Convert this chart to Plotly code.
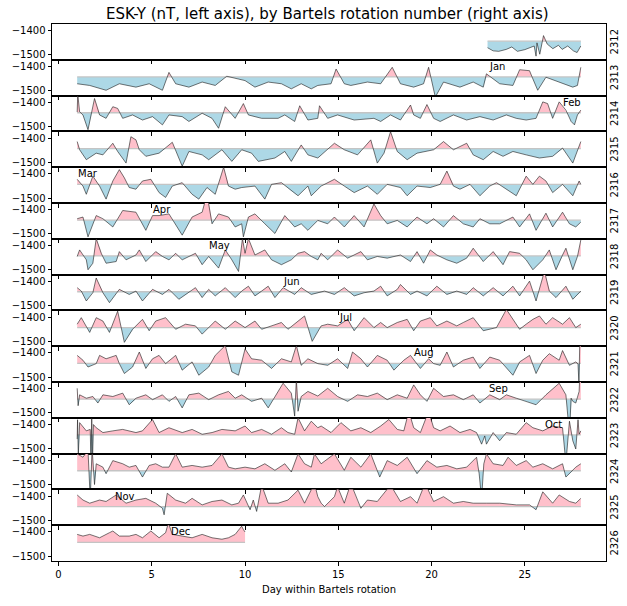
import plotly.graph_objects as go
from plotly.subplots import make_subplots

BASELINE = -1443
ROTATIONS = list(range(2312, 2327))

# (day within rotation, ESK-Y nT) readings for each Bartels rotation
ROT_2312 = [(23.0,-1470),(23.3,-1483),(23.6,-1485),(24.0,-1477),(24.3,-1467),(24.6,-1485),(25.0,-1478),(25.3,-1470),(25.5,-1463),(25.6,-1505),(25.65,-1450),(25.8,-1497),(26.0,-1420),(26.2,-1455),(26.5,-1474),(26.8,-1460),(27.0,-1477),(27.3,-1463),(27.6,-1483),(27.8,-1490),(28.0,-1463)]
ROT_2313 = [(1.0,-1471),(1.67,-1478),(2.55,-1498),(3.26,-1471),(4.15,-1485),(4.86,-1471),(5.57,-1498),(5.92,-1424),(6.28,-1471),(6.99,-1485),(7.7,-1464),(8.4,-1478),(9.02,-1440),(10.0,-1458),(10.53,-1485),(11.24,-1464),(11.95,-1471),(12.48,-1492),(13.01,-1471),(13.55,-1492),(13.9,-1478),(14.61,-1471),(14.88,-1410),(15.32,-1471),(15.67,-1478),(16.56,-1464),(17.27,-1471),(17.89,-1403),(18.33,-1471),(19.04,-1485),(19.57,-1471),(19.84,-1403),(20.2,-1526),(20.64,-1464),(21.52,-1485),(22.23,-1464),(22.77,-1485),(22.94,-1430),(23.65,-1471),(24.36,-1478),(24.72,-1413),(25.25,-1417),(25.43,-1451),(25.69,-1498),(26.13,-1444),(26.84,-1464),(27.57,-1485),(27.82,-1478),(28.0,-1403)]
ROT_2314 = [(1.0,-1440),(1.03,-1365),(1.13,-1439),(1.31,-1452),(1.58,-1513),(1.76,-1452),(1.93,-1384),(2.2,-1452),(2.55,-1466),(2.91,-1418),(3.17,-1425),(3.44,-1466),(3.97,-1452),(4.5,-1473),(5.04,-1459),(5.57,-1493),(5.92,-1452),(6.63,-1459),(6.99,-1479),(7.7,-1445),(8.23,-1466),(8.58,-1507),(8.94,-1418),(9.47,-1466),(9.91,-1405),(10.18,-1452),(10.89,-1466),(11.77,-1466),(12.13,-1452),(12.66,-1479),(12.93,-1414),(13.37,-1473),(13.9,-1466),(13.99,-1414),(14.43,-1466),(14.96,-1452),(15.85,-1473),(16.91,-1466),(17.27,-1479),(17.8,-1452),(18.33,-1473),(18.87,-1411),(19.04,-1452),(19.4,-1466),(19.75,-1409),(20.11,-1466),(20.46,-1479),(21.17,-1452),(21.88,-1473),(22.59,-1459),(23.3,-1473),(24.01,-1452),(24.54,-1466),(25.07,-1473),(25.6,-1466),(25.96,-1398),(26.22,-1405),(26.49,-1466),(26.84,-1398),(27.2,-1432),(27.48,-1479),(27.66,-1493),(27.82,-1452),(28.0,-1432)]
ROT_2315 = [(1.0,-1414),(1.13,-1448),(1.49,-1489),(2.02,-1462),(2.38,-1469),(2.91,-1421),(3.17,-1455),(3.62,-1503),(3.88,-1394),(4.15,-1407),(4.33,-1448),(4.68,-1475),(5.39,-1462),(5.74,-1441),(6.1,-1417),(6.63,-1516),(6.99,-1455),(7.7,-1469),(8.05,-1489),(8.76,-1448),(9.29,-1496),(9.82,-1448),(10.35,-1462),(10.71,-1496),(11.6,-1482),(12.13,-1455),(12.48,-1496),(13.01,-1428),(13.37,-1469),(13.9,-1482),(14.79,-1421),(15.32,-1448),(16.03,-1469),(16.74,-1407),(17.09,-1503),(17.45,-1462),(17.8,-1373),(18.16,-1455),(18.69,-1489),(19.22,-1462),(20.11,-1448),(20.64,-1414),(21.17,-1448),(21.88,-1421),(22.23,-1469),(22.77,-1489),(23.3,-1455),(23.83,-1475),(24.36,-1455),(25.07,-1469),(25.78,-1482),(26.49,-1475),(27.02,-1441),(27.57,-1503),(28.0,-1414)]
ROT_2316 = [(1.0,-1422),(1.31,-1450),(1.49,-1484),(1.84,-1409),(2.2,-1450),(2.55,-1504),(2.91,-1429),(3.26,-1382),(3.53,-1416),(3.79,-1456),(4.15,-1463),(4.5,-1429),(4.95,-1422),(5.39,-1477),(5.74,-1497),(6.1,-1450),(6.63,-1436),(7.16,-1484),(7.52,-1504),(7.96,-1456),(8.4,-1484),(8.85,-1372),(9.11,-1450),(9.47,-1463),(9.82,-1456),(10.53,-1450),(11.06,-1504),(11.42,-1443),(11.95,-1436),(12.48,-1470),(12.84,-1490),(13.37,-1450),(13.55,-1490),(14.08,-1450),(14.79,-1422),(15.32,-1450),(15.85,-1477),(16.56,-1450),(17.09,-1484),(17.62,-1443),(18.33,-1456),(18.69,-1490),(19.22,-1450),(19.93,-1456),(20.46,-1443),(20.82,-1388),(21.17,-1450),(21.52,-1463),(22.06,-1443),(22.59,-1490),(23.12,-1450),(23.48,-1436),(24.01,-1463),(24.54,-1490),(25.07,-1409),(25.43,-1443),(25.78,-1409),(26.13,-1429),(26.49,-1477),(27.02,-1443),(27.57,-1490),(27.91,-1429),(28.0,-1443)]
ROT_2317 = [(1.0,-1437),(1.31,-1430),(1.58,-1512),(2.02,-1424),(2.38,-1437),(2.91,-1471),(3.44,-1403),(4.15,-1410),(4.68,-1485),(5.04,-1424),(5.39,-1424),(5.92,-1417),(6.63,-1505),(7.16,-1430),(7.7,-1410),(7.96,-1335),(8.23,-1458),(8.58,-1417),(9.11,-1430),(9.47,-1471),(9.82,-1458),(9.91,-1512),(10.18,-1430),(10.53,-1417),(11.06,-1458),(11.6,-1498),(12.13,-1424),(12.66,-1471),(13.01,-1458),(13.37,-1485),(13.9,-1444),(14.43,-1458),(14.79,-1430),(15.32,-1471),(15.85,-1424),(16.38,-1471),(16.91,-1376),(17.27,-1424),(17.62,-1458),(18.16,-1444),(18.69,-1471),(19.22,-1430),(19.75,-1458),(20.11,-1437),(20.64,-1471),(21.17,-1424),(21.7,-1458),(22.23,-1471),(22.59,-1437),(23.12,-1458),(23.65,-1458),(24.36,-1430),(24.72,-1471),(25.25,-1417),(25.6,-1485),(26.13,-1414),(26.49,-1471),(27.02,-1410),(27.39,-1458),(27.73,-1471),(28.0,-1451)]
ROT_2318 = [(1.0,-1445),(1.13,-1418),(1.49,-1459),(1.58,-1500),(1.84,-1473),(2.02,-1371),(2.29,-1432),(2.55,-1473),(3.09,-1466),(3.26,-1425),(3.62,-1459),(4.15,-1439),(4.33,-1418),(4.68,-1466),(5.21,-1425),(5.57,-1445),(5.92,-1459),(6.28,-1432),(6.63,-1459),(7.34,-1432),(7.7,-1479),(8.05,-1445),(8.58,-1493),(8.94,-1418),(9.29,-1459),(9.65,-1507),(9.86,-1371),(10.0,-1432),(10.18,-1371),(10.53,-1439),(11.06,-1418),(11.42,-1459),(11.95,-1479),(12.48,-1459),(12.84,-1432),(13.19,-1425),(13.55,-1445),(13.9,-1459),(14.08,-1432),(14.43,-1459),(14.96,-1418),(15.5,-1452),(16.21,-1425),(16.56,-1459),(17.09,-1445),(17.62,-1452),(18.33,-1439),(18.87,-1466),(19.22,-1425),(19.57,-1473),(19.93,-1418),(20.28,-1439),(20.82,-1459),(21.35,-1473),(21.88,-1452),(22.23,-1411),(22.77,-1466),(23.3,-1425),(23.83,-1479),(24.18,-1425),(24.72,-1432),(25.07,-1459),(25.43,-1500),(25.96,-1459),(26.31,-1418),(26.67,-1500),(27.02,-1439),(27.2,-1411),(27.57,-1500),(27.82,-1445),(28.0,-1377)]
ROT_2319 = [(1.0,-1426),(1.22,-1440),(1.49,-1481),(1.84,-1447),(2.02,-1386),(2.38,-1447),(2.73,-1488),(3.26,-1433),(3.79,-1454),(4.15,-1440),(4.5,-1481),(5.04,-1433),(5.57,-1454),(5.92,-1433),(6.45,-1474),(6.99,-1447),(7.34,-1426),(7.7,-1467),(8.05,-1433),(8.4,-1460),(8.94,-1426),(9.47,-1467),(9.82,-1440),(10.18,-1420),(10.53,-1460),(10.89,-1440),(11.24,-1420),(11.6,-1467),(12.04,-1426),(12.66,-1454),(13.01,-1426),(13.55,-1454),(14.26,-1440),(14.79,-1454),(15.32,-1426),(15.85,-1460),(16.38,-1447),(16.91,-1440),(17.27,-1420),(17.62,-1460),(18.16,-1433),(18.33,-1413),(18.87,-1454),(19.22,-1440),(19.75,-1460),(20.28,-1420),(20.82,-1454),(21.35,-1440),(21.88,-1454),(22.23,-1426),(22.77,-1460),(23.3,-1426),(23.83,-1460),(24.36,-1420),(24.72,-1460),(25.25,-1399),(25.6,-1481),(26.05,-1358),(26.31,-1440),(26.67,-1467),(27.2,-1420),(27.57,-1474),(28.0,-1440)]
ROT_2320 = [(1.0,-1429),(1.22,-1402),(1.67,-1463),(2.02,-1402),(2.38,-1416),(2.73,-1463),(3.17,-1375),(3.53,-1504),(3.97,-1450),(4.5,-1409),(4.86,-1456),(5.21,-1416),(5.74,-1402),(6.28,-1450),(6.81,-1429),(7.34,-1436),(7.7,-1470),(8.4,-1416),(8.94,-1450),(9.47,-1416),(10.0,-1443),(10.53,-1416),(10.89,-1450),(11.42,-1436),(11.95,-1422),(12.3,-1450),(12.84,-1416),(13.19,-1395),(13.6,-1500),(14.08,-1436),(14.43,-1429),(14.96,-1436),(15.5,-1409),(15.85,-1456),(16.38,-1402),(16.91,-1443),(17.27,-1422),(17.62,-1443),(18.16,-1422),(18.69,-1409),(19.04,-1456),(19.4,-1416),(19.93,-1402),(20.28,-1436),(20.82,-1416),(21.35,-1436),(21.7,-1422),(22.23,-1402),(22.77,-1456),(23.48,-1443),(24.01,-1368),(24.36,-1409),(24.72,-1450),(25.07,-1429),(25.43,-1409),(25.78,-1395),(26.13,-1429),(26.49,-1402),(27.02,-1429),(27.39,-1402),(27.73,-1443),(28.0,-1429)]
ROT_2321 = [(1.0,-1410),(1.31,-1430),(1.58,-1458),(2.02,-1444),(2.2,-1410),(2.55,-1424),(3.09,-1410),(3.26,-1444),(3.53,-1485),(3.97,-1458),(4.33,-1396),(4.68,-1464),(5.04,-1424),(5.39,-1410),(5.74,-1444),(6.28,-1410),(6.63,-1471),(7.16,-1437),(7.52,-1492),(8.05,-1458),(8.4,-1410),(8.94,-1369),(9.29,-1478),(9.65,-1492),(10.0,-1383),(10.35,-1424),(10.89,-1430),(11.42,-1464),(11.95,-1424),(12.48,-1437),(12.75,-1369),(13.01,-1451),(13.37,-1424),(13.9,-1444),(14.43,-1451),(14.96,-1424),(15.5,-1464),(15.76,-1396),(16.21,-1424),(16.56,-1458),(17.09,-1410),(17.62,-1430),(17.98,-1471),(18.51,-1430),(18.87,-1410),(19.4,-1464),(19.84,-1424),(20.11,-1444),(20.46,-1451),(20.82,-1396),(21.17,-1458),(21.7,-1430),(22.23,-1417),(22.59,-1464),(23.12,-1417),(23.65,-1430),(24.36,-1492),(24.72,-1437),(25.25,-1410),(25.6,-1485),(25.96,-1430),(26.31,-1403),(26.84,-1430),(27.02,-1390),(27.39,-1451),(27.73,-1437),(27.85,-1445),(27.9,-1530),(27.95,-1330),(28.0,-1330)]
ROT_2322 = [(1.0,-1398),(1.05,-1470),(1.13,-1425),(1.49,-1439),(1.84,-1432),(2.11,-1459),(2.38,-1425),(2.91,-1432),(3.44,-1418),(3.79,-1466),(4.15,-1439),(4.68,-1425),(5.04,-1445),(5.57,-1425),(5.92,-1452),(6.28,-1432),(6.63,-1479),(6.99,-1425),(7.52,-1418),(8.05,-1445),(8.58,-1425),(9.11,-1411),(9.47,-1439),(9.82,-1425),(10.35,-1452),(10.89,-1439),(11.24,-1479),(11.77,-1411),(12.04,-1377),(12.48,-1418),(12.66,-1513),(12.75,-1357),(12.84,-1493),(13.01,-1432),(13.37,-1411),(13.9,-1430),(14.43,-1398),(14.96,-1432),(15.5,-1452),(16.03,-1425),(16.56,-1432),(17.09,-1418),(17.62,-1445),(18.16,-1425),(18.69,-1439),(19.04,-1384),(19.4,-1425),(19.75,-1452),(20.11,-1398),(20.64,-1432),(21.17,-1425),(21.7,-1445),(22.23,-1425),(22.59,-1459),(23.12,-1425),(23.65,-1445),(24.01,-1425),(24.54,-1439),(25.07,-1452),(25.6,-1466),(26.13,-1425),(26.84,-1377),(27.2,-1425),(27.39,-1588),(27.48,-1439),(27.57,-1452),(27.73,-1459),(27.82,-1439),(27.91,-1411),(27.95,-1330),(28.0,-1330)]
ROT_2323 = [(1.0,-1460),(1.02,-1380),(1.06,-1530),(1.13,-1392),(1.49,-1426),(1.7,-1420),(1.74,-1580),(1.78,-1360),(1.82,-1560),(1.87,-1400),(2.02,-1413),(2.38,-1433),(2.91,-1426),(3.44,-1420),(4.15,-1433),(4.5,-1426),(5.04,-1379),(5.39,-1433),(5.92,-1413),(6.63,-1433),(7.16,-1420),(7.7,-1440),(8.23,-1433),(8.76,-1420),(9.47,-1426),(10.0,-1406),(10.35,-1433),(10.89,-1420),(11.42,-1440),(11.95,-1413),(12.3,-1433),(12.66,-1440),(12.84,-1372),(13.19,-1426),(13.55,-1386),(13.9,-1413),(14.08,-1406),(14.61,-1433),(15.14,-1392),(15.67,-1426),(16.21,-1413),(16.74,-1433),(17.27,-1406),(17.71,-1379),(18.16,-1420),(18.51,-1426),(18.78,-1345),(19.04,-1413),(19.4,-1433),(19.84,-1345),(20.11,-1413),(20.46,-1426),(20.99,-1406),(21.52,-1433),(22.06,-1420),(22.41,-1433),(22.68,-1481),(22.85,-1447),(22.94,-1481),(23.3,-1433),(23.65,-1467),(24.01,-1433),(24.54,-1440),(25.07,-1392),(25.43,-1413),(25.96,-1426),(26.49,-1406),(27.02,-1413),(27.2,-1560),(27.39,-1386),(27.57,-1467),(27.73,-1501),(27.85,-1380),(27.91,-1440),(28.0,-1426)]
ROT_2324 = [(1.0,-1373),(1.31,-1387),(1.58,-1358),(1.7,-1560),(1.8,-1350),(1.93,-1500),(2.02,-1414),(2.38,-1428),(2.55,-1455),(2.91,-1401),(3.44,-1414),(3.79,-1428),(4.15,-1421),(4.5,-1469),(4.86,-1421),(5.21,-1414),(5.57,-1428),(5.92,-1428),(6.28,-1373),(6.63,-1428),(7.16,-1421),(7.7,-1428),(8.23,-1421),(8.76,-1373),(9.11,-1428),(9.47,-1435),(10.0,-1428),(10.53,-1435),(11.06,-1414),(11.6,-1441),(12.13,-1414),(12.48,-1448),(12.84,-1373),(13.19,-1414),(13.55,-1428),(13.72,-1373),(14.08,-1414),(14.79,-1373),(15.32,-1441),(15.67,-1387),(16.21,-1428),(16.74,-1373),(17.22,-1469),(17.62,-1401),(18.16,-1421),(18.69,-1387),(19.22,-1455),(19.75,-1401),(20.28,-1428),(20.82,-1421),(21.35,-1435),(21.88,-1428),(22.41,-1387),(22.55,-1455),(22.68,-1560),(22.8,-1414),(22.94,-1373),(23.3,-1414),(23.83,-1421),(24.1,-1387),(24.54,-1421),(25.07,-1401),(25.43,-1428),(25.96,-1414),(26.49,-1435),(27.02,-1414),(27.2,-1469),(27.57,-1441),(27.73,-1428),(28.0,-1414)]
ROT_2325 = [(1.0,-1395),(1.31,-1416),(1.67,-1429),(2.2,-1416),(2.55,-1422),(3.09,-1395),(3.62,-1429),(4.15,-1416),(4.68,-1409),(5.21,-1429),(5.57,-1450),(5.66,-1477),(5.83,-1388),(6.28,-1416),(6.81,-1429),(7.16,-1409),(7.7,-1436),(8.23,-1422),(8.76,-1416),(9.29,-1436),(9.65,-1429),(9.91,-1395),(10.27,-1456),(10.44,-1416),(10.62,-1463),(10.89,-1354),(11.24,-1429),(11.77,-1429),(12.3,-1416),(12.84,-1375),(13.19,-1429),(13.72,-1347),(13.9,-1402),(14.08,-1429),(14.26,-1443),(14.79,-1402),(14.96,-1361),(15.32,-1429),(15.67,-1347),(16.12,-1436),(16.21,-1450),(16.56,-1416),(17.09,-1422),(17.8,-1354),(18.33,-1422),(18.87,-1402),(19.22,-1429),(19.65,-1347),(20.11,-1422),(20.64,-1402),(21.17,-1429),(21.7,-1422),(22.23,-1429),(22.94,-1429),(23.65,-1429),(24.54,-1436),(25.25,-1436),(25.6,-1456),(25.96,-1382),(26.49,-1429),(26.84,-1395),(27.39,-1422),(27.73,-1429),(28.0,-1409)]
ROT_2326 = [(1.0,-1410),(1.31,-1417),(1.67,-1410),(2.2,-1424),(2.73,-1403),(2.91,-1396),(3.26,-1417),(3.79,-1417),(4.15,-1410),(4.5,-1424),(4.95,-1396),(5.39,-1424),(5.74,-1403),(5.89,-1362),(6.1,-1410),(6.63,-1417),(7.16,-1424),(7.7,-1410),(8.23,-1424),(8.76,-1430),(9.11,-1424),(9.47,-1410),(9.82,-1376),(9.91,-1390),(10.0,-1400)]

SERIES = [ROT_2312, ROT_2313, ROT_2314, ROT_2315, ROT_2316, ROT_2317, ROT_2318,
          ROT_2319, ROT_2320, ROT_2321, ROT_2322, ROT_2323, ROT_2324, ROT_2325, ROT_2326]

MONTHS = ["Jan", "Feb", "Mar", "Apr", "May", "Jun", "Jul", "Aug", "Sep", "Oct", "Nov", "Dec"]
MONTH_ROT = [2313, 2314, 2316, 2317, 2318, 2319, 2320, 2321, 2322, 2323, 2325, 2326]
MONTH_DAY = [23, 27, 1, 5, 8, 12, 15, 19, 23, 26, 3, 6]

X_TICKS = [0, 5, 10, 15, 20, 25]
Y_TICKS = [-1500, -1400]
Y_RANGE = [-1520, -1372]
X_RANGE = [-0.35, 29.35]

FONT = "DejaVu Sans"
N = len(ROTATIONS)

fig = make_subplots(rows=N, cols=1, shared_xaxes=True, vertical_spacing=0)


def split_at_base(pts, base):
    xs, ys = [], []
    for i, (x, y) in enumerate(pts):
        if i > 0:
            x0, y0 = pts[i - 1]
            if (y0 - base) * (y - base) < 0:
                xc = x0 + (base - y0) * (x - x0) / (y - y0)
                xs.append(xc)
                ys.append(base)
        xs.append(x)
        ys.append(y)
    return xs, ys


for i, (rot, pts) in enumerate(zip(ROTATIONS, SERIES)):
    row = i + 1
    xs, ys = split_at_base(pts, BASELINE)
    up = [max(v, BASELINE) for v in ys]
    dn = [min(v, BASELINE) for v in ys]
    polyx = xs + [xs[-1], xs[0]]
    for part, col in ((up, "#ffc0cb"), (dn, "#add8e6")):
        fig.add_trace(go.Scatter(x=polyx, y=part + [BASELINE, BASELINE], mode="lines",
                                 fill="toself", fillcolor=col, line=dict(width=0, color=col),
                                 hoverinfo="skip", showlegend=False), row=row, col=1)
    fig.add_trace(go.Scatter(x=[xs[0], xs[-1]], y=[BASELINE, BASELINE], mode="lines",
                             line=dict(color="#c4c4c4", width=1.3), hoverinfo="skip",
                             showlegend=False), row=row, col=1)
    fig.add_trace(go.Scatter(x=[p[0] for p in pts], y=[p[1] for p in pts], mode="lines",
                             line=dict(color="#1a1a1a", width=0.6), showlegend=False),
                  row=row, col=1)
    fig.update_yaxes(range=Y_RANGE, tickvals=Y_TICKS, ticks="outside", ticklen=3.5,
                     tickwidth=1, tickcolor="black", showline=True, mirror=True,
                     linecolor="black", linewidth=1, showgrid=False, zeroline=False,
                     tickfont=dict(family=FONT, size=10, color="black"), row=row, col=1)
    fig.update_xaxes(range=X_RANGE, tickvals=X_TICKS, ticks="outside", ticklen=3.5,
                     tickwidth=1, tickcolor="black", showline=True, mirror=True,
                     linecolor="black", linewidth=1, showgrid=False, zeroline=False,
                     showticklabels=(row == N),
                     tickfont=dict(family=FONT, size=10, color="black"), row=row, col=1)
    yref = "y" if row == 1 else f"y{row}"
    fig.add_annotation(text=str(rot), xref="paper", x=1.0, xanchor="left", xshift=1,
                       yref=f"{yref} domain", y=0.5, yanchor="middle", textangle=-90,
                       showarrow=False, font=dict(family=FONT, size=10, color="black"))

for name, rot, day in zip(MONTHS, MONTH_ROT, MONTH_DAY):
    row = ROTATIONS.index(rot) + 1
    sfx = "" if row == 1 else str(row)
    fig.add_annotation(text=name, x=day, y=-1400, xref=f"x{sfx}", yref=f"y{sfx}",
                       xanchor="left", yanchor="middle", showarrow=False, borderpad=0,
                       font=dict(family=FONT, size=10, color="black"))

fig.update_xaxes(title_text="Day within Bartels rotation",
                 title_font=dict(family=FONT, size=10, color="black"),
                 title_standoff=7, row=N, col=1)

fig.update_layout(
    width=627, height=606,
    margin=dict(l=49, r=21, t=24, b=38),
    paper_bgcolor="white", plot_bgcolor="white",
    font=dict(family=FONT, size=10, color="black"),
    title=dict(text="ESK-Y (nT, left axis), by Bartels rotation number (right axis)",
               x=0.522, xanchor="center", y=0.977, yanchor="middle",
               font=dict(family=FONT, size=15, color="black")),
    showlegend=False,
)

fig.write_html("out.html", config={"displayModeBar": False},
               post_script="document.body.style.margin='0px';document.body.style.overflow='hidden';")
